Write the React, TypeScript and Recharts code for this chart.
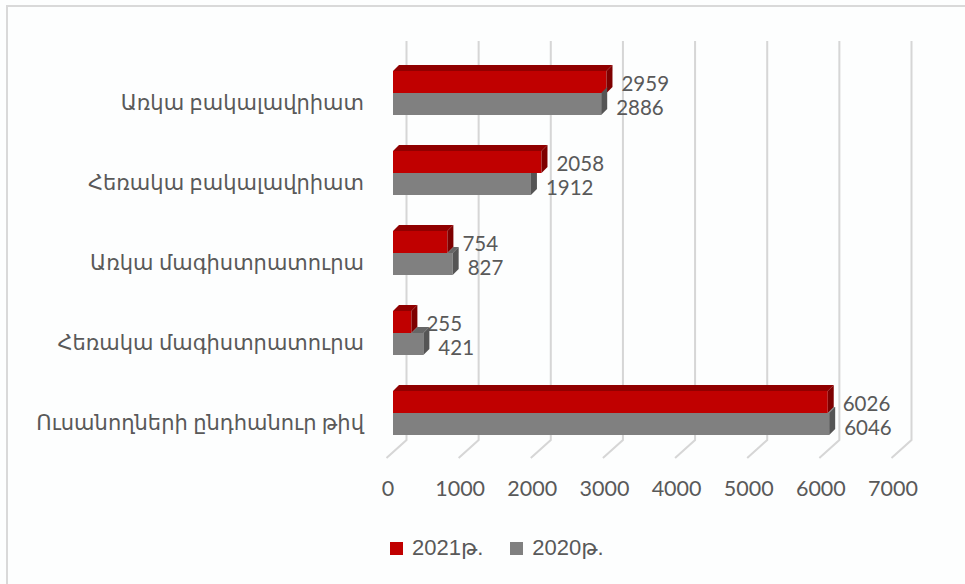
import { BarChart, Bar, XAxis, YAxis, CartesianGrid, LabelList, Legend } from "recharts";

const categories = [
  "Առկա բակալավրիատ",
  "Հեռակա բակալավրիատ",
  "Առկա մագիստրատուրա",
  "Հեռակա մագիստրատուրա",
  "Ուսանողների ընդհանուր թիվ",
];
const values2021 = [2959, 2058, 754, 255, 6026];
const values2020 = [2886, 1912, 827, 421, 6046];
const xTicks = [0, 1000, 2000, 3000, 4000, 5000, 6000, 7000];
const seriesNames = ["2021թ.", "2020թ."];

const data = categories.map((name, i) => ({
  name,
  y2021: values2021[i],
  y2020: values2020[i],
}));

const RED = "#C00000";
const RED_TOP = "#900000";
const RED_SIDE = "#7E0000";
const GRAY = "#808080";
const GRAY_TOP = "#666666";
const GRAY_SIDE = "#555555";
const DEPTH = 6;
const TEXT = "#595959";
const FONT = "Lato, 'DejaVu Sans', sans-serif";

// front face + top bevel + right side, like Excel's 3D bars
function RedBar(props: any) {
  const { x, y, width, height } = props;
  const d = DEPTH;
  const e = x + width;
  return (
    <g>
      <rect x={x} y={y} width={width} height={height} fill={RED} />
      <polygon points={`${x},${y} ${x + d},${y - d} ${e + d},${y - d} ${e},${y}`} fill={RED_TOP} />
      <polygon points={`${e},${y} ${e + d},${y - d} ${e + d},${y + height - d} ${e},${y + height}`} fill={RED_SIDE} />
    </g>
  );
}

function GrayBar(props: any) {
  const { x, y, width, height, payload } = props;
  const d = DEPTH;
  const e = x + width;
  // the red bar above hides the part of the top/side that lies behind it
  const redEnd = x + (width * payload.y2021) / payload.y2020;
  const showTop = e > redEnd;
  const sideTop = redEnd >= e + d ? y : y - d;
  return (
    <g>
      <rect x={x} y={y} width={width} height={height} fill={GRAY} />
      {showTop && (
        <polygon points={`${redEnd},${y} ${redEnd + d},${y - d} ${e + d},${y - d} ${e},${y}`} fill={GRAY_TOP} />
      )}
      <polygon
        points={`${e},${y} ${e + d},${sideTop} ${e + d},${y + height - d} ${e},${y + height}`}
        fill={GRAY_SIDE}
      />
    </g>
  );
}

// back wall line + floor diagonal for each value gridline
function GridLine(props: any) {
  const { x1, y1, y2 } = props;
  return (
    <path
      key={props.key}
      d={`M${x1 + 13.5},${y1 - 12} L${x1 + 13.5},${y2 - 13} L${x1 - 6.5},${y2 + 5}`}
      fill="none"
      stroke="#D6D6D6"
      strokeWidth={2}
    />
  );
}

function CategoryTick(props: any) {
  const { y, payload } = props;
  return (
    <text x={364} y={y + 8} textAnchor="end" dominantBaseline="central" fill={TEXT} fontSize={21} fontFamily={FONT}>
      {payload.value}
    </text>
  );
}

function ValueTick(props: any) {
  const { x, payload } = props;
  return (
    <text x={x - 5} y={488} textAnchor="middle" dominantBaseline="central" fill={TEXT} fontSize={21.5} fontFamily={FONT}>
      {payload.value}
    </text>
  );
}

const makeLabel = (dy: number) => (p: any) => (
  <text
    x={p.x + p.width + 15}
    y={p.y + p.height / 2 + dy}
    dominantBaseline="central"
    fill={TEXT}
    fontSize={20.5}
    fontFamily={FONT}
  >
    {p.value}
  </text>
);

function LegendContent() {
  const colors = [RED, GRAY];
  return (
    <div style={{ display: "flex", alignItems: "center", height: 26, paddingLeft: 390, fontFamily: "'Liberation Sans', Arial, 'DejaVu Sans', sans-serif", fontSize: 22, color: TEXT }}>
      {seriesNames.map((s, i) => (
        <div key={s} style={{ display: "flex", alignItems: "center", marginRight: 27 }}>
          <span style={{ width: 13, height: 13, background: colors[i], marginRight: 9, display: "inline-block" }} />
          <span>{s}</span>
        </div>
      ))}
    </div>
  );
}

export default function App() {
  return (
    <div style={{ position: "absolute", left: 0, top: 0, width: 965, height: 584, background: "#FDFEFE", overflow: "hidden" }}>
      <div style={{ position: "absolute", left: 6, top: 5, width: 1000, height: 700, borderTop: "2px solid #D9D9D9", borderLeft: "2px solid #D9D9D9" }} />
      <BarChart
        width={965}
        height={584}
        data={data}
        layout="vertical"
        margin={{ top: 53, right: 67, left: 0, bottom: 23 }}
        barGap={0}
        barSize={22}
      >
        <CartesianGrid horizontal={false} vertical={GridLine as any} />
        <XAxis
          type="number"
          domain={[0, 7000]}
          ticks={xTicks}
          axisLine={false}
          tickLine={false}
          height={82}
          tick={ValueTick}
          interval={0}
        />
        <YAxis
          type="category"
          dataKey="name"
          width={393}
          axisLine={false}
          tickLine={false}
          tick={CategoryTick}
          interval={0}
        />
        <Legend verticalAlign="bottom" height={26} content={LegendContent} />
        <Bar dataKey="y2021" name={seriesNames[0]} fill={RED} shape={RedBar} isAnimationActive={false}>
          <LabelList dataKey="y2021" content={makeLabel(0.5)} />
        </Bar>
        <Bar dataKey="y2020" name={seriesNames[1]} fill={GRAY} shape={GrayBar} isAnimationActive={false}>
          <LabelList dataKey="y2020" content={makeLabel(3)} />
        </Bar>
      </BarChart>
    </div>
  );
}
